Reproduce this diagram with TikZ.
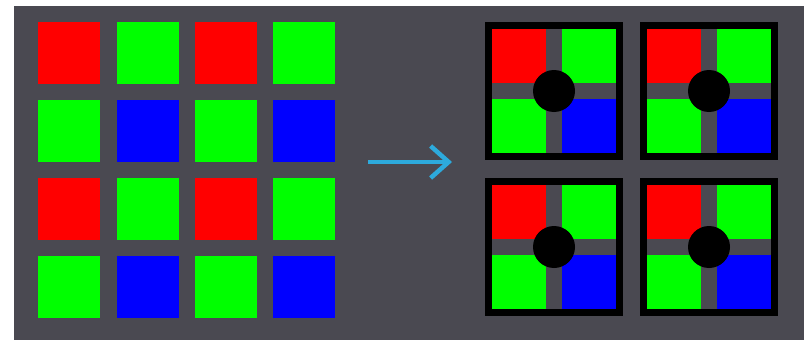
\documentclass[tikz,border=0pt]{standalone}
\definecolor{bggray}{RGB}{74,73,81}
\definecolor{pred}{RGB}{255,0,0}
\definecolor{pgreen}{RGB}{0,255,0}
\definecolor{pblue}{RGB}{0,0,255}
\definecolor{arrowblue}{RGB}{45,170,220}
\tikzset{
  pix/.style={inner sep=0pt, outer sep=0pt, draw=none, minimum size=62pt},
  quad/.style={inner sep=0pt, outer sep=0pt, draw=none, minimum size=54pt},
  dot/.style={circle, fill=black, inner sep=0pt, minimum size=42pt},
  conv/.style={draw=arrowblue, line width=4.5pt, -{Straight Barb[length=18pt,width=32pt,line width=4.5pt]}}
}
\usetikzlibrary{arrows.meta}
\begin{document}
\begin{tikzpicture}[x=1pt,y=-1pt]
\useasboundingbox (0,0) rectangle (804,340);
\fill[white] (0,0) rectangle (804,340);
\fill[bggray] (14,6) rectangle (804,340);
% left Bayer mosaic
\foreach \r/\y in {0/22,1/100,2/178,3/256}{
  \foreach \c/\x in {0/38,1/117,2/195,3/273}{
    \pgfmathtruncatemacro{\rp}{mod(\r,2)}
    \pgfmathtruncatemacro{\cp}{mod(\c,2)}
    \ifnum\rp=0
      \ifnum\cp=0 \def\col{pred}\else\def\col{pgreen}\fi
    \else
      \ifnum\cp=0 \def\col{pgreen}\else\def\col{pblue}\fi
    \fi
    \node[pix, fill=\col, anchor=north west] (m\r\c) at (\x,\y) {};
  }
}
% arrow
\coordinate (as) at (368,162);
\coordinate (ae) at (452,162);
\draw[conv] (as) -- (ae);
% right panels
\foreach \i/\px/\py in {1/485/22, 2/640/22, 3/485/178, 4/640/178}{
  \fill[black] (\px,\py) rectangle ++(138,138);
  \fill[bggray] (\px+7,\py+7) rectangle ++(124,124);
  \node[quad, fill=pred,   anchor=north west] (p\i a) at (\px+7,\py+7) {};
  \node[quad, fill=pgreen, anchor=north west] (p\i b) at (\px+77,\py+7) {};
  \node[quad, fill=pgreen, anchor=north west] (p\i c) at (\px+7,\py+77) {};
  \node[quad, fill=pblue,  anchor=north west] (p\i d) at (\px+77,\py+77) {};
  \node[dot] (p\i o) at (\px+69,\py+69) {};
}
\end{tikzpicture}
\end{document}
